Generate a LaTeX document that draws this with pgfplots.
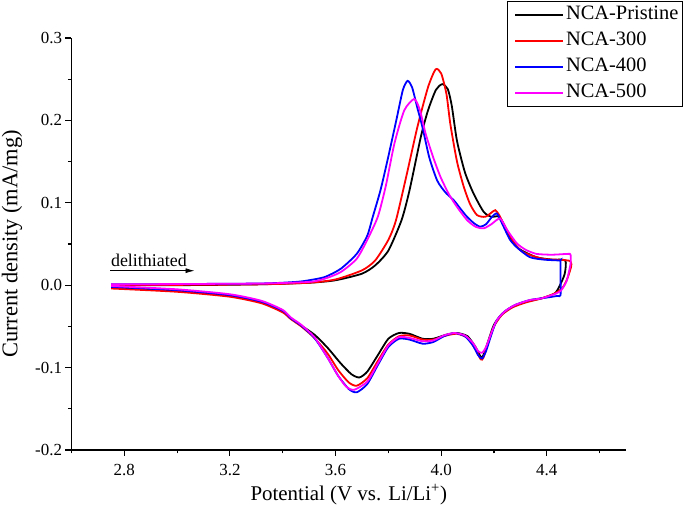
\documentclass[border=0pt]{standalone}
\usepackage{pgfplots}
\pgfplotsset{compat=1.18}
\usepackage{fontspec}
\setmainfont{Liberation Serif}
\usetikzlibrary{arrows.meta}
\definecolor{pmag}{RGB}{255,0,255}
\definecolor{pred}{RGB}{255,0,0}
\definecolor{pblue}{RGB}{0,0,255}
\begin{document}
\begin{tikzpicture}
\begin{axis}[
  scale only axis, width=554.5bp, height=412bp,
  xmin=2.6, xmax=4.7, ymin=-0.2, ymax=0.3,
  axis lines*=left,
  axis line style={line width=1.2bp},
  tick align=outside,
  major tick length=6bp, minor tick length=3.5bp,
  every tick/.style={line width=1.1bp, black},
  xtick={2.8,3.2,3.6,4.0,4.4}, minor xtick={2.6,3.0,3.4,3.8,4.2,4.6},
  ytick={-0.2,-0.1,0,0.1,0.2,0.3}, minor ytick={-0.15,-0.05,0.05,0.15,0.25},
  /pgf/number format/.cd, fixed, fixed zerofill, precision=1, assume math mode=true, /pgfplots/.cd,
  tick label style={font=\fontsize{17}{20}\selectfont},
  xticklabel style={yshift=-4.5bp},
  xlabel={Potential (V vs. Li/Li\textsuperscript{+})},
  ylabel={Current density (mA/mg)},
  xlabel style={font=\fontsize{21}{24}\selectfont, at={(axis description cs:0.5,-0.1214)}, anchor=base},
  ylabel style={font=\fontsize{22.5}{24}\selectfont, at={(axis description cs:-0.1073,0.5)}, anchor=center},
  legend style={at={(1.1028,1.0898)}, anchor=north east, draw=black, line width=1.2bp,
    font=\fontsize{20.5}{24}\selectfont, inner sep=2bp, row sep=3bp, column sep=0bp, cells={anchor=west},
    nodes={inner sep=2bp, text height=14bp, text depth=5bp}},
  legend image code/.code={\path (0bp,0bp); \draw[#1, line width=1.8bp] (5bp,0bp) -- (53bp,0bp);},
  every axis plot/.append style={line width=1.8bp, smooth, tension=0.4},
  clip=false,
]
\coordinate (BL) at (rel axis cs:0,0);
\coordinate (TR) at (rel axis cs:1,1);
% NCA-Pristine
\addplot[black] coordinates {
(2.75,0.000) (3.0,0.000) (3.3,0.001) (3.5,0.003) (3.6,0.006) (3.7,0.014) (3.75,0.024) (3.8,0.042)
(3.85,0.079) (3.88,0.115) (3.923,0.180) (3.95,0.212) (3.98,0.237) (4.004,0.244) (4.025,0.238)
(4.04,0.218) (4.06,0.175) (4.09,0.137) (4.123,0.111) (4.161,0.089) (4.19,0.083) (4.22,0.083)
(4.25,0.066) (4.274,0.051) (4.30,0.043) (4.36,0.034) (4.42,0.031) (4.47,0.030)
(4.468,0.014) (4.45,0.000) (4.43,-0.010) (4.38,-0.016) (4.32,-0.020) (4.27,-0.026) (4.23,-0.035)
(4.20,-0.048) (4.18,-0.066) (4.16,-0.085) (4.15,-0.087) (4.13,-0.075) (4.10,-0.062) (4.06,-0.058)
(4.02,-0.060) (3.97,-0.065) (3.93,-0.065) (3.88,-0.059) (3.84,-0.058) (3.80,-0.065) (3.76,-0.085)
(3.72,-0.105) (3.69,-0.112) (3.66,-0.108) (3.62,-0.095) (3.57,-0.076) (3.52,-0.060) (3.47,-0.049)
(3.43,-0.040) (3.40,-0.032) (3.32,-0.021) (3.2,-0.013) (3.0,-0.007) (2.75,-0.003)
};
\addlegendentry{NCA-Pristine}
% NCA-300
\addplot[pred] coordinates {
(2.75,0.000) (3.3,0.001) (3.5,0.003) (3.6,0.007) (3.7,0.018) (3.75,0.030) (3.8,0.055) (3.829,0.079)
(3.87,0.135) (3.91,0.192) (3.95,0.240) (3.979,0.262) (4.00,0.257) (4.02,0.232) (4.035,0.195)
(4.06,0.150) (4.086,0.119) (4.11,0.098) (4.136,0.085) (4.167,0.083) (4.19,0.088) (4.205,0.091)
(4.22,0.085) (4.248,0.067) (4.28,0.050) (4.311,0.040) (4.386,0.032) (4.49,0.029)
(4.48,0.010) (4.46,-0.003) (4.43,-0.010) (4.38,-0.016) (4.32,-0.021) (4.27,-0.027) (4.23,-0.036)
(4.20,-0.050) (4.18,-0.068) (4.16,-0.088) (4.15,-0.090) (4.13,-0.078) (4.10,-0.064) (4.06,-0.059)
(4.02,-0.061) (3.97,-0.066) (3.93,-0.066) (3.88,-0.061) (3.84,-0.062) (3.80,-0.072) (3.76,-0.092)
(3.72,-0.113) (3.68,-0.122) (3.65,-0.118) (3.61,-0.103) (3.57,-0.083) (3.52,-0.064) (3.47,-0.050)
(3.43,-0.041) (3.40,-0.033) (3.32,-0.022) (3.2,-0.014) (3.0,-0.008) (2.75,-0.004)
};
\addlegendentry{NCA-300}
% NCA-400
\addplot[pblue] coordinates {
(2.75,0.001) (3.3,0.002) (3.45,0.004) (3.5,0.006) (3.56,0.010) (3.62,0.020) (3.68,0.038) (3.72,0.060)
(3.741,0.083) (3.77,0.115) (3.797,0.152) (3.83,0.200) (3.855,0.237) (3.873,0.248) (3.89,0.240)
(3.91,0.215) (3.929,0.192) (3.955,0.155) (3.985,0.127) (4.015,0.113) (4.048,0.103) (4.075,0.092)
(4.098,0.083) (4.125,0.075) (4.148,0.071) (4.17,0.074) (4.19,0.082) (4.211,0.087) (4.235,0.072)
(4.261,0.055) (4.29,0.045) (4.336,0.034) (4.39,0.031) (4.449,0.030) (4.452,0.030)
(4.452,0.010) (4.452,-0.012) (4.44,-0.013)
(4.40,-0.015) (4.336,-0.018) (4.28,-0.024) (4.24,-0.032) (4.21,-0.043) (4.19,-0.060) (4.17,-0.080)
(4.155,-0.089) (4.14,-0.085) (4.12,-0.073) (4.09,-0.062) (4.05,-0.058) (4.01,-0.062) (3.97,-0.069)
(3.93,-0.071) (3.88,-0.066) (3.84,-0.065) (3.80,-0.075) (3.76,-0.097) (3.72,-0.120) (3.68,-0.130)
(3.65,-0.126) (3.61,-0.110) (3.57,-0.088) (3.52,-0.064) (3.47,-0.049) (3.43,-0.040) (3.40,-0.031)
(3.32,-0.020) (3.2,-0.012) (3.0,-0.006) (2.75,-0.002)
};
\addlegendentry{NCA-400}
% NCA-500
\addplot[pmag] coordinates {
(2.75,0.001) (3.3,0.002) (3.5,0.004) (3.56,0.008) (3.62,0.016) (3.68,0.032) (3.72,0.055) (3.76,0.083)
(3.79,0.120) (3.823,0.172) (3.86,0.212) (3.898,0.226) (3.92,0.212) (3.941,0.184) (3.97,0.155)
(3.998,0.131) (4.03,0.110) (4.06,0.095) (4.098,0.079) (4.13,0.071) (4.161,0.069) (4.19,0.074)
(4.223,0.081) (4.25,0.067) (4.286,0.051) (4.32,0.043) (4.361,0.038) (4.42,0.037) (4.48,0.038) (4.49,0.037)
(4.49,0.026) (4.475,0.005) (4.455,-0.006) (4.436,-0.010) (4.38,-0.016) (4.336,-0.018) (4.28,-0.024)
(4.24,-0.032) (4.21,-0.043) (4.19,-0.058) (4.17,-0.075) (4.155,-0.082) (4.14,-0.080) (4.12,-0.070)
(4.09,-0.061) (4.05,-0.058) (4.01,-0.061) (3.97,-0.067) (3.93,-0.068) (3.88,-0.064) (3.84,-0.063)
(3.80,-0.073) (3.76,-0.095) (3.72,-0.117) (3.67,-0.127) (3.64,-0.123) (3.61,-0.110) (3.57,-0.088)
(3.52,-0.063) (3.47,-0.048) (3.43,-0.039) (3.40,-0.030) (3.32,-0.019) (3.2,-0.011) (3.0,-0.005) (2.75,-0.001)
};
\addlegendentry{NCA-500}
\draw[-{Latex[length=9bp,width=5bp]}, line width=0.8bp] (axis cs:2.747,0.0176) -- (axis cs:3.066,0.0176);
\node[anchor=base west, inner sep=0pt, font=\fontsize{18}{20}\selectfont] at ([yshift=3.7bp]axis cs:2.749,0.0176) {delithiated};
\end{axis}
\pgfresetboundingbox
\path ([xshift=-71.5bp,yshift=-60bp]BL) rectangle ([xshift=59bp,yshift=38bp]TR);
\end{tikzpicture}
\end{document}
